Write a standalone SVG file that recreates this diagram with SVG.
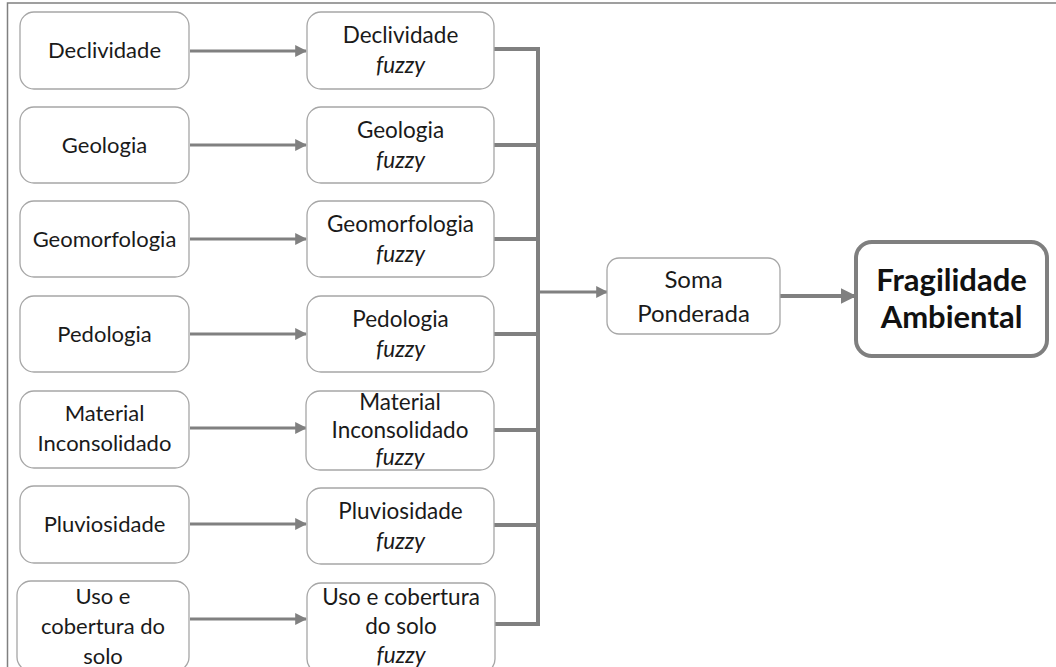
<svg xmlns="http://www.w3.org/2000/svg" width="1056" height="667" viewBox="0 0 1056 667">
<defs>
<style>
.box{fill:#fff;stroke:#a6a6a6;stroke-width:1.3}
.big{fill:#fff;stroke:#7f7f7f;stroke-width:4}
.t{font-family:Lato,"Open Sans",sans-serif;font-size:22px;fill:#1a1a1a;text-anchor:middle}
.m{font-family:Lato,"Open Sans",sans-serif;font-size:22.5px;fill:#1a1a1a;text-anchor:middle}
.s{font-family:Lato,"Open Sans",sans-serif;font-size:24px;fill:#1a1a1a;text-anchor:middle}
.i{font-style:italic}
.b{font-family:Lato,"Open Sans",sans-serif;font-size:31px;font-weight:bold;fill:#111;text-anchor:middle}
.arr{stroke:#808080;stroke-width:3;fill:none;marker-end:url(#ah)}
.bus{stroke:#808080;stroke-width:4;fill:none}
</style>
<marker id="ah" viewBox="0 0 10 10" refX="9" refY="5" markerWidth="4" markerHeight="4" orient="auto" markerUnits="strokeWidth">
<path d="M0,0 L10,5 L0,10 z" fill="#808080"/>
</marker>
</defs>
<rect x="0" y="0" width="1056" height="667" fill="#fff"/>
<path d="M7.5,667 V3 H1056" stroke="#808080" stroke-width="1.5" fill="none"/>

<g id="connectors">
<line class="arr" x1="190" y1="51" x2="306" y2="51"/>
<line class="arr" x1="190" y1="145" x2="306" y2="145"/>
<line class="arr" x1="190" y1="239" x2="306" y2="239"/>
<line class="arr" x1="190" y1="334" x2="306" y2="334"/>
<line class="arr" x1="190" y1="428" x2="306" y2="428"/>
<line class="arr" x1="190" y1="524" x2="306" y2="524"/>
<line class="arr" x1="190" y1="619" x2="306" y2="619"/>
<path class="bus" d="M494,49 H538 M494,145 H538 M494,239 H538 M494,334 H538 M494,430 H538 M494,525 H538 M494,624 H538 M538,47 V626"/>
<line class="arr" x1="538" y1="292" x2="607" y2="292"/>
<line class="arr" x1="780" y1="296" x2="855" y2="296" style="stroke-width:4"/>
</g>

<g id="n-declividade"><rect class="box" x="20" y="12" width="169" height="77" rx="14"/><text class="t" x="104.5" y="58">Declividade</text></g>
<g id="n-geologia"><rect class="box" x="20" y="107" width="169" height="76" rx="14"/><text class="t" x="104.5" y="153">Geologia</text></g>
<g id="n-geomorfologia"><rect class="box" x="20" y="201" width="169" height="76" rx="14"/><text class="t" x="104.5" y="247">Geomorfologia</text></g>
<g id="n-pedologia"><rect class="box" x="20" y="296" width="169" height="76" rx="14"/><text class="t" x="104.5" y="342">Pedologia</text></g>
<g id="n-material"><rect class="box" x="20" y="391" width="169" height="77" rx="14"/><text class="t" x="104.5" y="421">Material</text><text class="t" x="104.5" y="451">Inconsolidado</text></g>
<g id="n-pluviosidade"><rect class="box" x="20" y="486" width="169" height="77" rx="14"/><text class="t" x="104.5" y="532">Pluviosidade</text></g>
<g id="n-uso"><rect class="box" x="17" y="581" width="172" height="90" rx="14"/><text class="t" x="103" y="604">Uso e</text><text class="t" x="103" y="634">cobertura do</text><text class="t" x="103" y="664">solo</text></g>

<g id="f-declividade"><rect class="box" x="307" y="12" width="187" height="77" rx="14"/><text class="m" x="400.5" y="43">Declividade</text><text class="m i" x="400.5" y="73">fuzzy</text></g>
<g id="f-geologia"><rect class="box" x="307" y="107" width="187" height="76" rx="14"/><text class="m" x="400.5" y="138">Geologia</text><text class="m i" x="400.5" y="168">fuzzy</text></g>
<g id="f-geomorfologia"><rect class="box" x="307" y="201" width="187" height="76" rx="14"/><text class="m" x="400.5" y="232">Geomorfologia</text><text class="m i" x="400.5" y="262">fuzzy</text></g>
<g id="f-pedologia"><rect class="box" x="307" y="296" width="187" height="76" rx="14"/><text class="m" x="400.5" y="327">Pedologia</text><text class="m i" x="400.5" y="357">fuzzy</text></g>
<g id="f-material"><rect class="box" x="306" y="391" width="188" height="79" rx="14"/><text class="m" x="400" y="410">Material</text><text class="m" x="400" y="438">Inconsolidado</text><text class="m i" x="400" y="465">fuzzy</text></g>
<g id="f-pluviosidade"><rect class="box" x="307" y="488" width="187" height="76" rx="14"/><text class="m" x="400.5" y="519">Pluviosidade</text><text class="m i" x="400.5" y="549">fuzzy</text></g>
<g id="f-uso"><rect class="box" x="307" y="583" width="188" height="90" rx="14"/><text class="m" x="401" y="605">Uso e cobertura</text><text class="m" x="401" y="634">do solo</text><text class="m i" x="401" y="663">fuzzy</text></g>

<g id="n-soma"><rect class="box" x="607" y="258" width="173" height="76" rx="12"/><text class="s" x="693.5" y="288">Soma</text><text class="s" x="693.5" y="322">Ponderada</text></g>
<g id="n-fragilidade"><rect class="big" x="856" y="242" width="191" height="114" rx="16"/><text class="b" x="951.5" y="291">Fragilidade</text><text class="b" x="951.5" y="328">Ambiental</text></g>
</svg>
